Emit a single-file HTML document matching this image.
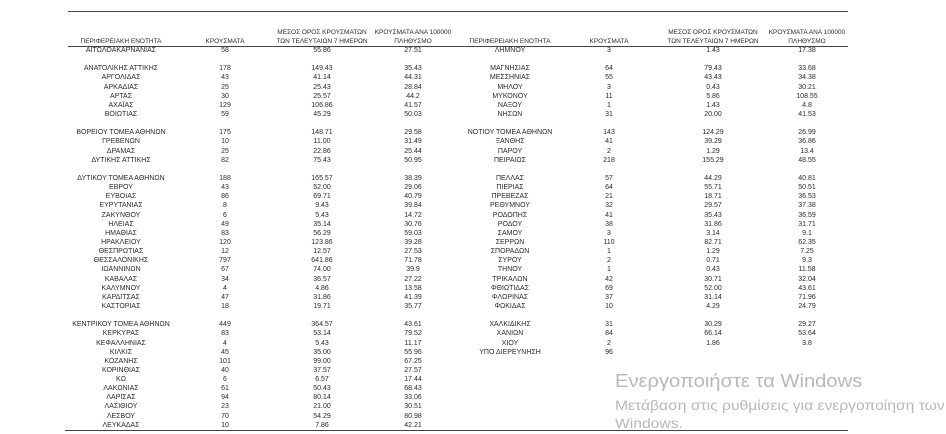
<!DOCTYPE html>
<html><head><meta charset="utf-8">
<style>
body{margin:0;width:946px;height:434px;background:#fff;position:relative;overflow:hidden;font-family:"Liberation Sans","DejaVu Sans",sans-serif;color:#2a2a2a}
.col{position:absolute;top:46px;width:480px}
.r{position:relative;height:9.15px;font-size:7px;line-height:9.15px;white-space:nowrap}
.r span{position:absolute;text-align:center;top:0}
.L .a{left:1px;width:120px}.L .b{left:135px;width:60px}.L .c{left:202px;width:120px}.L .d{left:303px;width:100px}
.R .a{left:-10px;width:120px}.R .b{left:119px;width:60px}.R .c{left:193px;width:120px}.R .d{left:297px;width:100px}
.h{position:absolute;font-size:6.5px;line-height:9px;text-align:center;white-space:nowrap}
.ln{position:absolute;background:#444;height:1.3px}
.wm{position:absolute;color:#b8b8b8;white-space:nowrap;transform-origin:0 0}
</style></head><body>
<div class="ln" style="left:68px;top:10.5px;width:780px"></div>
<div class="ln" style="left:68px;top:46px;width:780px"></div>
<div class="ln" style="left:65px;top:430px;width:783px"></div>

<div class="h" style="left:61px;width:120px;top:37px">ΠΕΡΙΦΕΡΕΙΑΚΗ ΕΝΟΤΗΤΑ</div>
<div class="h" style="left:195px;width:60px;top:37px">ΚΡΟΥΣΜΑΤΑ</div>
<div class="h" style="left:262px;width:120px;top:28px">ΜΕΣΟΣ ΟΡΟΣ ΚΡΟΥΣΜΑΤΩΝ<br>ΤΩΝ ΤΕΛΕΥΤΑΙΩΝ 7 ΗΜΕΡΩΝ</div>
<div class="h" style="left:363px;width:100px;top:28px">ΚΡΟΥΣΜΑΤΑ ΑΝΑ 100000<br>ΠΛΗΘΥΣΜΟ</div>
<div class="h" style="left:450px;width:120px;top:37px">ΠΕΡΙΦΕΡΕΙΑΚΗ ΕΝΟΤΗΤΑ</div>
<div class="h" style="left:579px;width:60px;top:37px">ΚΡΟΥΣΜΑΤΑ</div>
<div class="h" style="left:653px;width:120px;top:28px">ΜΕΣΟΣ ΟΡΟΣ ΚΡΟΥΣΜΑΤΩΝ<br>ΤΩΝ ΤΕΛΕΥΤΑΙΩΝ 7 ΗΜΕΡΩΝ</div>
<div class="h" style="left:757px;width:100px;top:28px">ΚΡΟΥΣΜΑΤΑ ΑΝΑ 100000<br>ΠΛΗΘΥΣΜΟ</div>

<div class="col L" style="left:60px">
<div class="r"><span class="a">ΑΙΤΩΛΟΑΚΑΡΝΑΝΙΑΣ</span><span class="b">58</span><span class="c">55.86</span><span class="d">27.51</span></div>
<div class="r"></div>
<div class="r"><span class="a">ΑΝΑΤΟΛΙΚΗΣ ΑΤΤΙΚΗΣ</span><span class="b">178</span><span class="c">149.43</span><span class="d">35.43</span></div>
<div class="r"><span class="a">ΑΡΓΟΛΙΔΑΣ</span><span class="b">43</span><span class="c">41.14</span><span class="d">44.31</span></div>
<div class="r"><span class="a">ΑΡΚΑΔΙΑΣ</span><span class="b">25</span><span class="c">25.43</span><span class="d">28.84</span></div>
<div class="r"><span class="a">ΑΡΤΑΣ</span><span class="b">30</span><span class="c">25.57</span><span class="d">44.2</span></div>
<div class="r"><span class="a">ΑΧΑΪΑΣ</span><span class="b">129</span><span class="c">106.86</span><span class="d">41.57</span></div>
<div class="r"><span class="a">ΒΟΙΩΤΙΑΣ</span><span class="b">59</span><span class="c">45.29</span><span class="d">50.03</span></div>
<div class="r"></div>
<div class="r"><span class="a">ΒΟΡΕΙΟΥ ΤΟΜΕΑ ΑΘΗΝΩΝ</span><span class="b">175</span><span class="c">148.71</span><span class="d">29.58</span></div>
<div class="r"><span class="a">ΓΡΕΒΕΝΩΝ</span><span class="b">10</span><span class="c">11.00</span><span class="d">31.49</span></div>
<div class="r"><span class="a">ΔΡΑΜΑΣ</span><span class="b">25</span><span class="c">22.86</span><span class="d">25.44</span></div>
<div class="r"><span class="a">ΔΥΤΙΚΗΣ ΑΤΤΙΚΗΣ</span><span class="b">82</span><span class="c">75.43</span><span class="d">50.95</span></div>
<div class="r"></div>
<div class="r"><span class="a">ΔΥΤΙΚΟΥ ΤΟΜΕΑ ΑΘΗΝΩΝ</span><span class="b">188</span><span class="c">165.57</span><span class="d">38.39</span></div>
<div class="r"><span class="a">ΕΒΡΟΥ</span><span class="b">43</span><span class="c">52.00</span><span class="d">29.06</span></div>
<div class="r"><span class="a">ΕΥΒΟΙΑΣ</span><span class="b">86</span><span class="c">69.71</span><span class="d">40.79</span></div>
<div class="r"><span class="a">ΕΥΡΥΤΑΝΙΑΣ</span><span class="b">8</span><span class="c">9.43</span><span class="d">39.84</span></div>
<div class="r"><span class="a">ΖΑΚΥΝΘΟΥ</span><span class="b">6</span><span class="c">5.43</span><span class="d">14.72</span></div>
<div class="r"><span class="a">ΗΛΕΙΑΣ</span><span class="b">49</span><span class="c">35.14</span><span class="d">30.76</span></div>
<div class="r"><span class="a">ΗΜΑΘΙΑΣ</span><span class="b">83</span><span class="c">56.29</span><span class="d">59.03</span></div>
<div class="r"><span class="a">ΗΡΑΚΛΕΙΟΥ</span><span class="b">120</span><span class="c">123.86</span><span class="d">39.28</span></div>
<div class="r"><span class="a">ΘΕΣΠΡΩΤΙΑΣ</span><span class="b">12</span><span class="c">12.57</span><span class="d">27.53</span></div>
<div class="r"><span class="a">ΘΕΣΣΑΛΟΝΙΚΗΣ</span><span class="b">797</span><span class="c">641.86</span><span class="d">71.78</span></div>
<div class="r"><span class="a">ΙΩΑΝΝΙΝΩΝ</span><span class="b">67</span><span class="c">74.00</span><span class="d">39.9</span></div>
<div class="r"><span class="a">ΚΑΒΑΛΑΣ</span><span class="b">34</span><span class="c">36.57</span><span class="d">27.22</span></div>
<div class="r"><span class="a">ΚΑΛΥΜΝΟΥ</span><span class="b">4</span><span class="c">4.86</span><span class="d">13.58</span></div>
<div class="r"><span class="a">ΚΑΡΔΙΤΣΑΣ</span><span class="b">47</span><span class="c">31.86</span><span class="d">41.39</span></div>
<div class="r"><span class="a">ΚΑΣΤΟΡΙΑΣ</span><span class="b">18</span><span class="c">19.71</span><span class="d">35.77</span></div>
<div class="r"></div>
<div class="r"><span class="a">ΚΕΝΤΡΙΚΟΥ ΤΟΜΕΑ ΑΘΗΝΩΝ</span><span class="b">449</span><span class="c">364.57</span><span class="d">43.61</span></div>
<div class="r"><span class="a">ΚΕΡΚΥΡΑΣ</span><span class="b">83</span><span class="c">53.14</span><span class="d">79.52</span></div>
<div class="r"><span class="a">ΚΕΦΑΛΛΗΝΙΑΣ</span><span class="b">4</span><span class="c">5.43</span><span class="d">11.17</span></div>
<div class="r"><span class="a">ΚΙΛΚΙΣ</span><span class="b">45</span><span class="c">35.00</span><span class="d">55.96</span></div>
<div class="r"><span class="a">ΚΟΖΑΝΗΣ</span><span class="b">101</span><span class="c">99.00</span><span class="d">67.25</span></div>
<div class="r"><span class="a">ΚΟΡΙΝΘΙΑΣ</span><span class="b">40</span><span class="c">37.57</span><span class="d">27.57</span></div>
<div class="r"><span class="a">ΚΩ</span><span class="b">6</span><span class="c">6.57</span><span class="d">17.44</span></div>
<div class="r"><span class="a">ΛΑΚΩΝΙΑΣ</span><span class="b">61</span><span class="c">50.43</span><span class="d">68.43</span></div>
<div class="r"><span class="a">ΛΑΡΙΣΑΣ</span><span class="b">94</span><span class="c">80.14</span><span class="d">33.06</span></div>
<div class="r"><span class="a">ΛΑΣΙΘΙΟΥ</span><span class="b">23</span><span class="c">21.00</span><span class="d">30.51</span></div>
<div class="r"><span class="a">ΛΕΣΒΟΥ</span><span class="b">70</span><span class="c">54.29</span><span class="d">80.98</span></div>
<div class="r"><span class="a">ΛΕΥΚΑΔΑΣ</span><span class="b">10</span><span class="c">7.86</span><span class="d">42.21</span></div>
</div>

<div class="col R" style="left:460px">
<div class="r"><span class="a">ΛΗΜΝΟΥ</span><span class="b">3</span><span class="c">1.43</span><span class="d">17.38</span></div>
<div class="r"></div>
<div class="r"><span class="a">ΜΑΓΝΗΣΙΑΣ</span><span class="b">64</span><span class="c">79.43</span><span class="d">33.68</span></div>
<div class="r"><span class="a">ΜΕΣΣΗΝΙΑΣ</span><span class="b">55</span><span class="c">43.43</span><span class="d">34.38</span></div>
<div class="r"><span class="a">ΜΗΛΟΥ</span><span class="b">3</span><span class="c">0.43</span><span class="d">30.21</span></div>
<div class="r"><span class="a">ΜΥΚΟΝΟΥ</span><span class="b">11</span><span class="c">5.86</span><span class="d">108.55</span></div>
<div class="r"><span class="a">ΝΑΞΟΥ</span><span class="b">1</span><span class="c">1.43</span><span class="d">4.8</span></div>
<div class="r"><span class="a">ΝΗΣΩΝ</span><span class="b">31</span><span class="c">20.00</span><span class="d">41.53</span></div>
<div class="r"></div>
<div class="r"><span class="a">ΝΟΤΙΟΥ ΤΟΜΕΑ ΑΘΗΝΩΝ</span><span class="b">143</span><span class="c">124.29</span><span class="d">26.99</span></div>
<div class="r"><span class="a">ΞΑΝΘΗΣ</span><span class="b">41</span><span class="c">39.29</span><span class="d">36.86</span></div>
<div class="r"><span class="a">ΠΑΡΟΥ</span><span class="b">2</span><span class="c">1.29</span><span class="d">13.4</span></div>
<div class="r"><span class="a">ΠΕΙΡΑΙΩΣ</span><span class="b">218</span><span class="c">155.29</span><span class="d">48.55</span></div>
<div class="r"></div>
<div class="r"><span class="a">ΠΕΛΛΑΣ</span><span class="b">57</span><span class="c">44.29</span><span class="d">40.81</span></div>
<div class="r"><span class="a">ΠΙΕΡΙΑΣ</span><span class="b">64</span><span class="c">55.71</span><span class="d">50.51</span></div>
<div class="r"><span class="a">ΠΡΕΒΕΖΑΣ</span><span class="b">21</span><span class="c">18.71</span><span class="d">36.53</span></div>
<div class="r"><span class="a">ΡΕΘΥΜΝΟΥ</span><span class="b">32</span><span class="c">29.57</span><span class="d">37.38</span></div>
<div class="r"><span class="a">ΡΟΔΟΠΗΣ</span><span class="b">41</span><span class="c">35.43</span><span class="d">36.59</span></div>
<div class="r"><span class="a">ΡΟΔΟΥ</span><span class="b">38</span><span class="c">31.86</span><span class="d">31.71</span></div>
<div class="r"><span class="a">ΣΑΜΟΥ</span><span class="b">3</span><span class="c">3.14</span><span class="d">9.1</span></div>
<div class="r"><span class="a">ΣΕΡΡΩΝ</span><span class="b">110</span><span class="c">82.71</span><span class="d">62.35</span></div>
<div class="r"><span class="a">ΣΠΟΡΑΔΩΝ</span><span class="b">1</span><span class="c">1.29</span><span class="d">7.25</span></div>
<div class="r"><span class="a">ΣΥΡΟΥ</span><span class="b">2</span><span class="c">0.71</span><span class="d">9.3</span></div>
<div class="r"><span class="a">ΤΗΝΟΥ</span><span class="b">1</span><span class="c">0.43</span><span class="d">11.58</span></div>
<div class="r"><span class="a">ΤΡΙΚΑΛΩΝ</span><span class="b">42</span><span class="c">30.71</span><span class="d">32.04</span></div>
<div class="r"><span class="a">ΦΘΙΩΤΙΔΑΣ</span><span class="b">69</span><span class="c">52.00</span><span class="d">43.61</span></div>
<div class="r"><span class="a">ΦΛΩΡΙΝΑΣ</span><span class="b">37</span><span class="c">31.14</span><span class="d">71.96</span></div>
<div class="r"><span class="a">ΦΩΚΙΔΑΣ</span><span class="b">10</span><span class="c">4.29</span><span class="d">24.79</span></div>
<div class="r"></div>
<div class="r"><span class="a">ΧΑΛΚΙΔΙΚΗΣ</span><span class="b">31</span><span class="c">30.29</span><span class="d">29.27</span></div>
<div class="r"><span class="a">ΧΑΝΙΩΝ</span><span class="b">84</span><span class="c">66.14</span><span class="d">53.64</span></div>
<div class="r"><span class="a">ΧΙΟΥ</span><span class="b">2</span><span class="c">1.86</span><span class="d">3.8</span></div>
<div class="r"><span class="a">ΥΠΟ ΔΙΕΡΕΥΝΗΣΗ</span><span class="b">96</span></div>
</div>

<div class="wm" style="left:615px;top:371px;font-size:18px;transform:scaleX(1.12)">Ενεργοποιήστε τα Windows</div>
<div class="wm" style="left:615px;top:398px;font-size:13.5px;transform:scaleX(1.16)">Μετάβαση στις ρυθμίσεις για ενεργοποίηση των</div>
<div class="wm" style="left:615px;top:416px;font-size:13.5px;transform:scaleX(1.16)">Windows.</div>
</body></html>
